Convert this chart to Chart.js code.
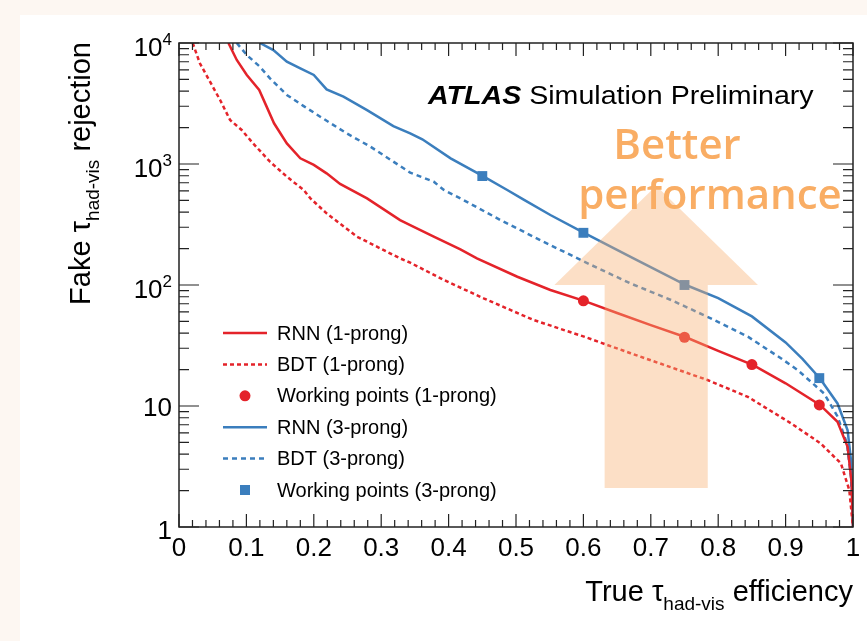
<!DOCTYPE html>
<html>
<head>
<meta charset="utf-8">
<script src="https://cdn.jsdelivr.net/npm/chart.js@4"></script>
<style>
  html, body { margin: 0; padding: 0; background: #fdf7f2; }
  #wrap { width: 867px; height: 641px; }
</style>
</head>
<body>
<div id="wrap"><canvas id="roc" width="867" height="641"></canvas></div>
<script>
// efficiency / rejection
const rnn1Eff = [0.0733, 0.0857, 0.1006, 0.119, 0.130, 0.141, 0.160, 0.180, 0.200, 0.219, 0.239, 0.279, 0.328, 0.343, 0.378, 0.4175, 0.442, 0.502, 0.551, 0.601, 0.65, 0.70, 0.752, 0.80, 0.852, 0.90, 0.951, 0.977, 0.992, 0.998, 1.0];
const rnn1Rej = [10000, 7240, 5440, 4090, 2980, 2170, 1480, 1114, 982, 837, 684, 520, 344, 313, 251, 197, 166, 117, 91, 74, 58.7, 46.6, 37, 28.5, 21.8, 15.4, 10.2, 7.4, 4.6, 2.3, 1];

const bdt1Eff = [0.0203, 0.031, 0.046, 0.061, 0.0758, 0.093, 0.110, 0.135, 0.160, 0.185, 0.195, 0.219, 0.264, 0.328, 0.343, 0.393, 0.452, 0.526, 0.601, 0.670, 0.784, 0.844, 0.908, 0.952, 0.982, 0.9945, 1.0];
const bdt1Rej = [10000, 6790, 4790, 3380, 2310, 1910, 1480, 1045, 785, 610, 520, 391, 251, 166, 153, 110, 77.6, 51.4, 37.4, 27.3, 16.4, 11.9, 7.2, 4.9, 3.36, 2.02, 1];

const rnn3Eff = [0.120, 0.140, 0.160, 0.180, 0.200, 0.219, 0.244, 0.279, 0.318, 0.343, 0.361, 0.403, 0.451, 0.487, 0.512, 0.551, 0.601, 0.670, 0.752, 0.80, 0.85, 0.90, 0.925, 0.951, 0.977, 0.992, 0.997, 1.0];
const rnn3Rej = [10000, 8750, 7010, 6170, 5440, 4140, 3600, 2790, 2060, 1790, 1600, 1114, 795, 610, 505, 379, 270, 171, 100, 78, 55, 33.5, 24.5, 16.9, 10.5, 6.3, 3.58, 1];

const bdt3Eff = [0.0857, 0.1006, 0.120, 0.135, 0.160, 0.185, 0.2095, 0.249, 0.284, 0.328, 0.343, 0.378, 0.393, 0.422, 0.477, 0.536, 0.601, 0.670, 0.730, 0.789, 0.844, 0.893, 0.918, 0.957, 0.977, 0.991, 0.997, 1.0];
const bdt3Rej = [10000, 7950, 6370, 5100, 3720, 3010, 2460, 1790, 1390, 962, 848, 714, 610, 504, 344, 235, 156, 103, 75.2, 53, 37.4, 24.8, 19.8, 12.7, 8.2, 4.9, 2.6, 1];

// working points
const wp1Eff = [0.60, 0.75, 0.85, 0.95];
const wp1Rej = [74, 37, 22, 10.2];
const wp3Eff = [0.45, 0.60, 0.75, 0.95];
const wp3Rej = [795, 270, 100, 17];

// axis ticks
const xTickVals = [0, 0.1, 0.2, 0.3, 0.4, 0.5, 0.6, 0.7, 0.8, 0.9, 1];
const xTickLabels = ['0', '0.1', '0.2', '0.3', '0.4', '0.5', '0.6', '0.7', '0.8', '0.9', '1'];
const yTickVals = [1, 10, 100, 1000, 10000];
const yTickBase = ['1', '10', '10', '10', '10'];
const yTickExp = ['', '', '2', '3', '4'];

// "better performance" arrow, in (efficiency, rejection)
const arrowShaftEff = [0.6315, 0.7845];
const arrowHeadEff = [0.557, 0.708, 0.859];
const arrowRej = [2.1, 100, 660];

const RED = '#e4232a';
const BLUE = '#3b7ebd';
const FONT = '"Liberation Sans", Arial, sans-serif';

const pts = (xs, ys) => xs.map((x, i) => ({x: x, y: ys[i]}));

const legendItems = [
    {label: 'RNN (1-prong)', color: RED, dash: []},
    {label: 'BDT (1-prong)', color: RED, dash: [4, 3]},
    {label: 'Working points (1-prong)', color: RED, marker: 'circle'},
    {label: 'RNN (3-prong)', color: BLUE, dash: []},
    {label: 'BDT (3-prong)', color: BLUE, dash: [5, 4]},
    {label: 'Working points (3-prong)', color: BLUE, marker: 'rect'},
];

function textWithSub(ctx, parts, x, y, align) {
    // parts: [text, size, dy]
    let total = 0;
    parts.forEach(p => { ctx.font = p[1] + 'px ' + FONT; total += ctx.measureText(p[0]).width; });
    let cx = align === 'right' ? x - total : x;
    parts.forEach(p => {
        ctx.font = p[1] + 'px ' + FONT;
        ctx.fillText(p[0], cx, y + p[2]);
        cx += ctx.measureText(p[0]).width;
    });
}

const decor = {
    id: 'decor',
    beforeDraw(chart) {
        const ctx = chart.ctx;
        ctx.save();
        ctx.fillStyle = '#fdf7f2';
        ctx.fillRect(0, 0, chart.width, chart.height);
        ctx.fillStyle = '#ffffff';
        ctx.fillRect(20, 15, chart.width - 20, chart.height - 15);
        ctx.restore();
    },
    afterDatasetsDraw(chart) {
        const ctx = chart.ctx;
        const xs = chart.scales.x, ys = chart.scales.y;
        const a = chart.chartArea;
        ctx.save();

        // arrow
        const sx0 = xs.getPixelForValue(arrowShaftEff[0]), sx1 = xs.getPixelForValue(arrowShaftEff[1]);
        const yb = ys.getPixelForValue(arrowRej[0]), ym = ys.getPixelForValue(arrowRej[1]), yt = ys.getPixelForValue(arrowRej[2]);
        ctx.fillStyle = 'rgba(247, 176, 112, 0.4)';
        ctx.beginPath();
        ctx.moveTo(sx0, yb);
        ctx.lineTo(sx0, ym);
        ctx.lineTo(xs.getPixelForValue(arrowHeadEff[0]), ym);
        ctx.lineTo(xs.getPixelForValue(arrowHeadEff[1]), yt);
        ctx.lineTo(xs.getPixelForValue(arrowHeadEff[2]), ym);
        ctx.lineTo(sx1, ym);
        ctx.lineTo(sx1, yb);
        ctx.closePath();
        ctx.fill();

        ctx.fillStyle = '#f9ad64';
        ctx.textAlign = 'center';
        ctx.textBaseline = 'alphabetic';
        ctx.font = '600 42px "Open Sans", "Noto Sans", sans-serif';
        ctx.fillText('Better', 677, 159);
        ctx.fillText('performance', 710, 209);

        // frame
        ctx.strokeStyle = '#222';
        ctx.lineWidth = 1.5;
        ctx.strokeRect(a.left, a.top, a.right - a.left, a.bottom - a.top);

        // ticks
        ctx.lineWidth = 1.2;
        ctx.beginPath();
        for (let i = 0; i <= 50; i++) {
            const px = xs.getPixelForValue(i / 50);
            const len = i % 5 === 0 ? 13 : 7;
            ctx.moveTo(px, a.bottom); ctx.lineTo(px, a.bottom - len);
            ctx.moveTo(px, a.top); ctx.lineTo(px, a.top + len);
        }
        for (let d = 1; d <= 1000; d *= 10) {
            for (let m = 1; m <= 10; m++) {
                const v = d * m;
                const py = ys.getPixelForValue(v);
                const len = m === 1 || m === 10 ? 20 : 10;
                ctx.moveTo(a.left, py); ctx.lineTo(a.left + len, py);
                ctx.moveTo(a.right, py); ctx.lineTo(a.right - len, py);
            }
        }
        ctx.stroke();

        // tick labels
        ctx.fillStyle = '#000';
        ctx.textAlign = 'center';
        ctx.textBaseline = 'top';
        ctx.font = '26px ' + FONT;
        xTickVals.forEach((v, i) => {
            ctx.fillText(xTickLabels[i], xs.getPixelForValue(v), a.bottom + 9);
        });
        ctx.textAlign = 'left';
        ctx.textBaseline = 'alphabetic';
        yTickVals.forEach((v, i) => {
            const py = ys.getPixelForValue(v);
            if (yTickExp[i]) {
                textWithSub(ctx, [[yTickBase[i], 26, 0], [yTickExp[i], 17, -11]], a.left - 7, py + 13, 'right');
            } else {
                textWithSub(ctx, [[yTickBase[i], 26, 0]], a.left - 7, py + (i === 0 ? 12 : 10), 'right');
            }
        });

        // axis titles
        textWithSub(ctx, [['True \u03c4', 29, 0], ['had-vis', 19, 9], [' efficiency', 29, 0]], a.right, 601, 'right');
        ctx.save();
        ctx.translate(90, 42);
        ctx.rotate(-Math.PI / 2);
        textWithSub(ctx, [['Fake \u03c4', 29, 0], ['had-vis', 19, 9], [' rejection', 29, 0]], 0, 0, 'right');
        ctx.restore();

        // ATLAS label, stretched to the reference width
        ctx.save();
        ctx.translate(428, 104);
        ctx.scale(1.1, 1);
        ctx.font = 'italic bold 26px ' + FONT;
        ctx.fillText('ATLAS', 0, 0);
        const w = ctx.measureText('ATLAS ').width;
        ctx.font = '26px ' + FONT;
        ctx.fillText('Simulation Preliminary', w, 0);
        ctx.restore();

        // legend
        ctx.font = '20px ' + FONT;
        ctx.textBaseline = 'middle';
        legendItems.forEach((it, i) => {
            const y = 333 + i * 31.4;
            ctx.strokeStyle = it.color;
            ctx.fillStyle = it.color;
            if (it.marker === 'circle') {
                ctx.beginPath(); ctx.arc(245, y, 5.5, 0, Math.PI * 2); ctx.fill();
            } else if (it.marker === 'rect') {
                ctx.fillRect(240, y - 5, 10, 10);
            } else {
                ctx.lineWidth = 2.5;
                ctx.setLineDash(it.dash);
                ctx.beginPath(); ctx.moveTo(223, y); ctx.lineTo(267, y); ctx.stroke();
                ctx.setLineDash([]);
            }
            ctx.fillStyle = '#000';
            ctx.fillText(it.label, 277, y + 1);
        });
        ctx.restore();
    }
};

new Chart(document.getElementById('roc'), {
    type: 'scatter',
    data: {
        datasets: [
            {label: 'RNN (1-prong)', data: pts(rnn1Eff, rnn1Rej), showLine: true, borderColor: RED, borderWidth: 2.5, pointRadius: 0},
            {label: 'BDT (1-prong)', data: pts(bdt1Eff, bdt1Rej), showLine: true, borderColor: RED, borderWidth: 2.5, borderDash: [4, 3], pointRadius: 0},
            {label: 'RNN (3-prong)', data: pts(rnn3Eff, rnn3Rej), showLine: true, borderColor: BLUE, borderWidth: 2.5, pointRadius: 0},
            {label: 'BDT (3-prong)', data: pts(bdt3Eff, bdt3Rej), showLine: true, borderColor: BLUE, borderWidth: 2.5, borderDash: [5, 4], pointRadius: 0},
            {label: 'Working points (1-prong)', data: pts(wp1Eff, wp1Rej), pointStyle: 'circle', pointRadius: 5.5, backgroundColor: RED, borderColor: RED, borderWidth: 0},
            {label: 'Working points (3-prong)', data: pts(wp3Eff, wp3Rej), pointStyle: 'rect', pointRadius: 7, backgroundColor: BLUE, borderColor: BLUE, borderWidth: 0},
        ]
    },
    options: {
        responsive: false,
        animation: false,
        layout: {padding: {left: 179, top: 43, right: 14, bottom: 114}},
        scales: {
            x: {type: 'linear', min: 0, max: 1, display: false},
            y: {type: 'logarithmic', min: 1, max: 10000, display: false}
        },
        plugins: {
            legend: {display: false},
            tooltip: {enabled: false}
        }
    },
    plugins: [decor]
});
</script>
</body>
</html>
